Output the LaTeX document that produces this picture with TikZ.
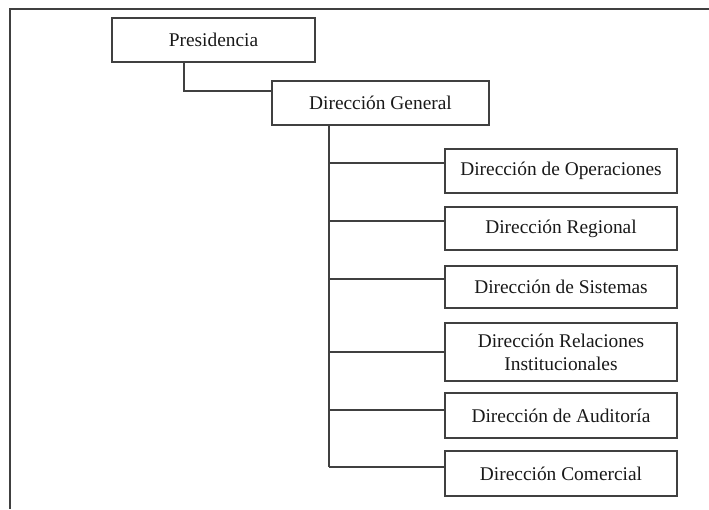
\documentclass[tikz,border=0pt]{standalone}
\usepackage{fontspec}
\setmainfont{Liberation Serif}
\begin{document}
\begin{tikzpicture}[x=1pt,y=-1pt,
  orgbox/.style={draw=black!75,line width=1.2pt,rectangle,inner sep=0pt,align=center,
    font=\fontsize{19.4}{23}\selectfont,text=black!90},
  conn/.style={draw=black!75,line width=1.1pt}]
\useasboundingbox (0,0) rectangle (709,509);
\draw[conn] (709,9) -- (10,9) -- (10,509);
\node[orgbox,minimum width=203pt,minimum height=44pt] (pres) at (213.5,40) {Presidencia};
\node[orgbox,minimum width=217pt,minimum height=44pt] (dg) at (380.5,103) {Dirección General};
\node[orgbox,minimum width=232pt,minimum height=44pt] (ops) at (561,171) {Dirección de Operaciones};
\node[orgbox,minimum width=232pt,minimum height=43pt] (reg) at (561,228.5) {Dirección Regional};
\node[orgbox,minimum width=232pt,minimum height=42pt] (sis) at (561,287) {Dirección de Sistemas};
\node[orgbox,minimum width=232pt,minimum height=58pt] (rel) at (561,352) {Dirección Relaciones\\Institucionales};
\node[orgbox,minimum width=232pt,minimum height=45pt] (aud) at (561,415.5) {Dirección de Auditoría};
\node[orgbox,minimum width=232pt,minimum height=45pt] (com) at (561,473.5) {Dirección Comercial};
\draw[conn] ([xshift=-29.5pt]pres.south) |- ([yshift=12pt]dg.west);
\coordinate (t0) at ([xshift=-51.5pt]dg.south);
\coordinate (bops) at ([yshift=8pt]ops.west);
\coordinate (breg) at ([yshift=7.5pt]reg.west);
\coordinate (bsis) at ([yshift=8pt]sis.west);
\coordinate (brel) at (rel.west);
\coordinate (baud) at ([yshift=5.5pt]aud.west);
\coordinate (bcom) at ([yshift=6.5pt]com.west);
\draw[conn] (t0) -- (t0 |- bcom);
\foreach \b in {bops,breg,bsis,brel,baud,bcom}
  \draw[conn] (t0 |- \b) -- (\b);
\end{tikzpicture}
\end{document}
